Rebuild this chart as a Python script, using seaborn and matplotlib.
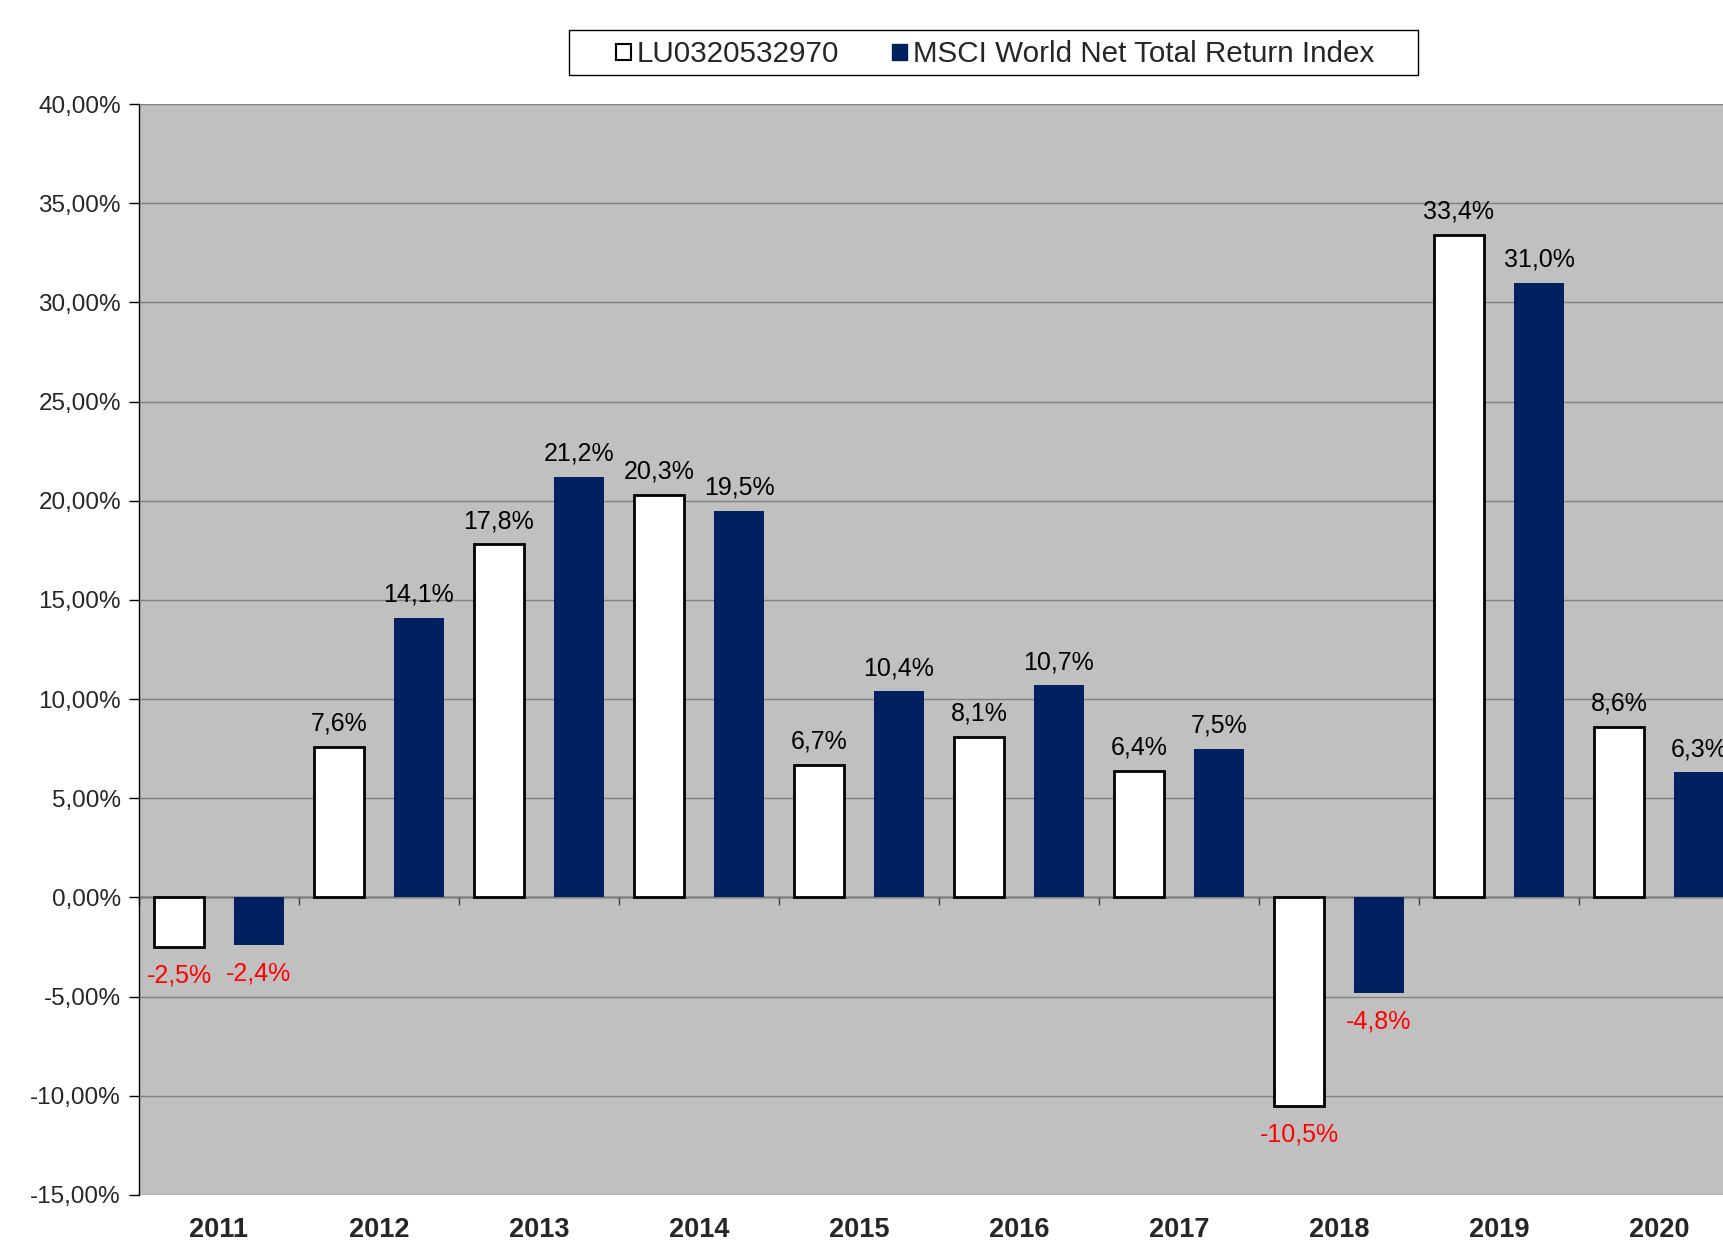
import pandas as pd
import seaborn as sns
import matplotlib.pyplot as plt
from matplotlib.patches import Patch, Rectangle

# values (annual returns in %)
years = ['2011', '2012', '2013', '2014', '2015', '2016', '2017', '2018', '2019', '2020']
fund_name = 'LU0320532970'
index_name = 'MSCI World Net Total Return Index'
fund_returns = [-2.5, 7.6, 17.8, 20.3, 6.7, 8.1, 6.4, -10.5, 33.4, 8.6]
index_returns = [-2.4, 14.1, 21.2, 19.5, 10.4, 10.7, 7.5, -4.8, 31.0, 6.3]
y_ticks = [-15, -10, -5, 0, 5, 10, 15, 20, 25, 30, 35, 40]

df = pd.DataFrame({
    'Year': years * 2,
    'Return': fund_returns + index_returns,
    'Series': [fund_name] * len(years) + [index_name] * len(years),
})

sns.set_style('white')
plt.rcParams['font.family'] = ['Liberation Sans', 'DejaVu Sans']

navy = '#002060'
fig = plt.figure(figsize=(17.24, 12.42), dpi=100)
ax = fig.add_axes([139 / 1724, 47 / 1242, 1600 / 1724, 1091 / 1242])

sns.barplot(data=df, x='Year', y='Return', hue='Series',
            palette={fund_name: 'white', index_name: navy}, saturation=1,
            width=1.0, gap=0.375, legend=False, ax=ax, zorder=2)

# white bars get a black outline, navy bars none
for bar in ax.containers[0]:
    bar.set_edgecolor('black')
    bar.set_linewidth(2)
for bar in ax.containers[1]:
    bar.set_edgecolor(navy)
    bar.set_linewidth(0)

# data labels
for cont, vals in zip(ax.containers, [fund_returns, index_returns]):
    for bar, v in zip(cont, vals):
        txt = f'{v:.1f}%'.replace('.', ',')
        if v >= 0:
            ax.annotate(txt, (bar.get_x() + bar.get_width() / 2, v),
                        xytext=(0, 8), textcoords='offset points',
                        ha='center', va='bottom', fontsize=18, color='black')
        else:
            ax.annotate(txt, (bar.get_x() + bar.get_width() / 2, v),
                        xytext=(0, -12), textcoords='offset points',
                        ha='center', va='top', fontsize=18, color='red')

ax.set_facecolor('#C0C0C0')
ax.set_xlim(-0.5, len(years) - 0.5)
ax.set_ylim(-15, 40)
ax.set_yticks(y_ticks)
ax.set_yticklabels([f'{t:.2f}%'.replace('.', ',') for t in y_ticks], fontsize=17.5)
ax.tick_params(axis='y', direction='out', length=7, width=1, color='black', pad=6, left=True)
ax.tick_params(axis='x', length=0, pad=16)
for lab in ax.get_xticklabels():
    lab.set_fontsize(19.5)
    lab.set_fontweight('bold')
ax.set_xlabel('')
ax.set_ylabel('')
ax.yaxis.grid(True, color='#808080', linewidth=1)
ax.set_axisbelow(True)
for side in ['top', 'right', 'bottom']:
    ax.spines[side].set_visible(False)
ax.spines['left'].set_color('black')
ax.spines['left'].set_linewidth(1)

# category axis crossing at zero, ticks between the years
zero_axis = ax.secondary_xaxis(15 / 55)
zero_axis.set_xticks([i + 0.5 for i in range(-1, len(years))])
zero_axis.tick_params(axis='x', direction='out', length=6, width=1, color='#404040', labelbottom=False)
zero_axis.spines['bottom'].set_color('black')
zero_axis.spines['bottom'].set_linewidth(1)

# legend with its own frame on top
fig.patches.append(Rectangle((569 / 1724, (1242 - 75) / 1242), 849 / 1724, 45 / 1242,
                             transform=fig.transFigure, facecolor='white',
                             edgecolor='black', linewidth=1))
handles = [Patch(facecolor='white', edgecolor='black', linewidth=1.5, label=fund_name),
           Patch(facecolor=navy, edgecolor=navy, label=index_name)]
fig.legend(handles=handles, loc='center', bbox_to_anchor=(995 / 1724, 1 - 54.5 / 1242),
           ncol=2, frameon=False, fontsize=21.3, handlelength=0.5, handleheight=0.5,
           handletextpad=0.2, columnspacing=1.8, borderpad=0)

fig.savefig('out.png', dpi=100)
